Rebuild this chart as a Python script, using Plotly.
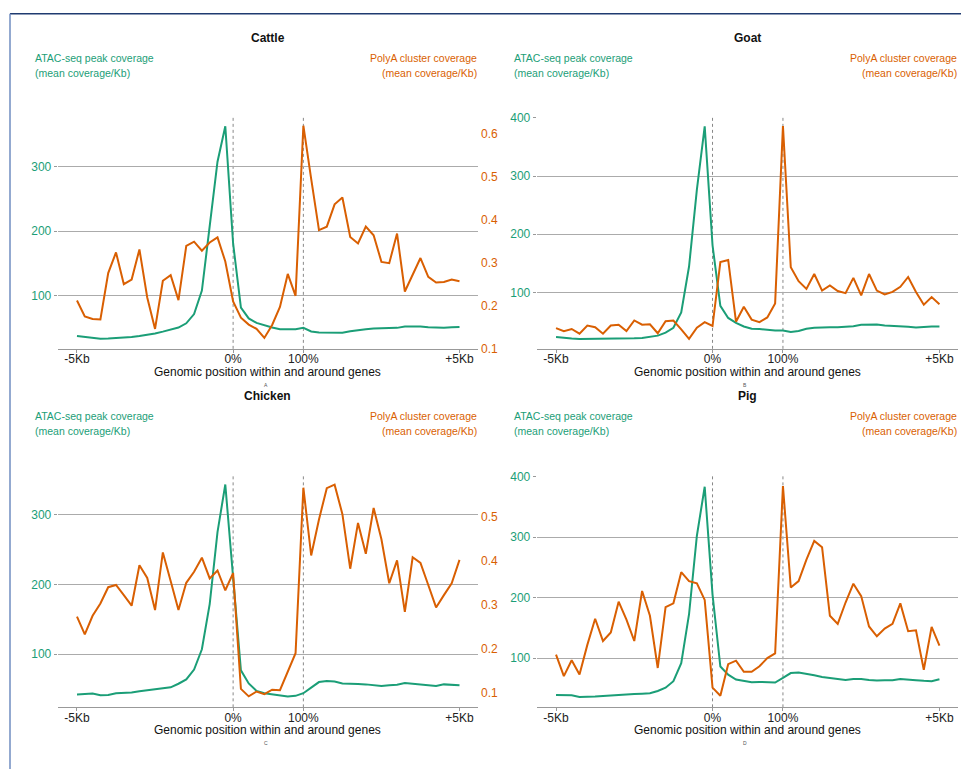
import plotly.graph_objects as go

# ---------------- data ----------------
bins = list(range(50))  # 20 upstream bins, 9 gene-body bins, 20 downstream bins
tick_pos = [0, 20, 29, 49]
tick_text = ["-5Kb", "0%", "100%", "+5Kb"]

cattle_atac = [37.6, 36.4, 34.6, 33.6, 33.8, 34.3, 35.1, 36.0, 37.6, 39.5, 41.7, 44.5, 47.3, 50.8, 57.4,
               71.7, 108, 209, 307.6, 362.4, 181, 81.7, 65, 58, 53.9, 50.8, 48.3, 48.3, 48.3, 50.3,
               44.7, 43.2, 43.2, 43.2, 42.7, 45.2, 47.3, 48.3, 49.3, 49.8, 49.8, 50.3, 52.4, 52.9, 52.4,
               51.3, 50.3, 50.3, 51.3, 51.8]
cattle_polya = [0.212, 0.175, 0.169, 0.168, 0.276, 0.324, 0.250, 0.261, 0.331, 0.219, 0.146, 0.258, 0.271,
                0.213, 0.339, 0.349, 0.328, 0.347, 0.359, 0.303, 0.210, 0.172, 0.156, 0.146, 0.125, 0.155,
                0.197, 0.274, 0.223, 0.619, 0.495, 0.376, 0.384, 0.436, 0.452, 0.360, 0.345, 0.384, 0.364,
                0.302, 0.299, 0.368, 0.233, 0.271, 0.311, 0.267, 0.254, 0.255, 0.261, 0.257]

goat_atac = [23.5, 21.8, 20.7, 20.1, 20.1, 20.1, 20.7, 20.1, 20.7, 20.7, 21.2, 21.8, 23.5, 25.7, 31.0,
             39.2, 65.7, 144.5, 276.7, 385.3, 181, 76.9, 56.1, 47.7, 41.5, 37.5, 37.0, 35.8, 34.7, 34.7,
             31.9, 33.6, 37.5, 39.2, 40.3, 40.3, 40.3, 40.9, 42.0, 44.3, 44.9, 44.9, 43.2, 42.0, 42.0,
             40.9, 39.8, 40.9, 41.5, 41.5]
goat_polya = [0.150, 0.143, 0.148, 0.137, 0.156, 0.152, 0.137, 0.156, 0.158, 0.143, 0.168, 0.158, 0.159,
              0.138, 0.166, 0.168, 0.147, 0.125, 0.151, 0.164, 0.155, 0.305, 0.310, 0.165, 0.200, 0.170,
              0.164, 0.175, 0.208, 0.624, 0.293, 0.260, 0.242, 0.277, 0.238, 0.250, 0.237, 0.232, 0.268,
              0.227, 0.277, 0.238, 0.229, 0.235, 0.247, 0.270, 0.235, 0.205, 0.223, 0.206]

chicken_atac = [42.1, 42.6, 43.5, 41.2, 41.6, 44.0, 44.5, 44.9, 46.8, 48.2, 48.7, 50.1, 52.5, 57.6, 63.8,
                77.9, 107.1, 172, 275.5, 343.8, 205, 76.9, 58.1, 47.3, 44.0, 42.6, 41.2, 39.3, 40.2, 44.0,
                52.0, 60.0, 61.4, 60.9, 58.1, 57.2, 57.2, 56.7, 55.3, 54.4, 55.3, 56.2, 58.6, 57.6, 56.2,
                55.3, 54.4, 56.7, 56.2, 55.3]
chicken_polya = [0.274, 0.234, 0.276, 0.304, 0.341, 0.346, 0.323, 0.299, 0.391, 0.362, 0.289, 0.420, 0.355,
                 0.289, 0.351, 0.376, 0.408, 0.361, 0.379, 0.334, 0.373, 0.110, 0.093, 0.104, 0.098, 0.108,
                 0.107, 0.150, 0.191, 0.567, 0.413, 0.495, 0.566, 0.574, 0.507, 0.383, 0.487, 0.417, 0.521,
                 0.450, 0.350, 0.402, 0.285, 0.409, 0.396, 0.346, 0.295, 0.323, 0.350, 0.403]

pig_atac = [38.9, 38.9, 38.4, 35.7, 35.7, 36.2, 37.3, 37.8, 38.9, 40.0, 40.5, 41.1, 41.6, 45.4, 50.8,
            61.6, 91.4, 172.4, 302.2, 383.2, 204.9, 85.9, 72.4, 64.3, 61.6, 60.0, 60.5, 59.5, 59.5, 67.0,
            75.1, 76.2, 74.1, 71.4, 68.6, 67.0, 65.4, 63.8, 65.4, 65.4, 63.8, 62.7, 63.2, 63.2, 65.4,
            63.8, 63.2, 62.2, 61.6, 64.9]
pig_polya = [0.203, 0.153, 0.190, 0.157, 0.226, 0.287, 0.235, 0.255, 0.327, 0.285, 0.235, 0.352, 0.294,
             0.172, 0.314, 0.323, 0.396, 0.375, 0.370, 0.331, 0.126, 0.107, 0.181, 0.189, 0.163, 0.163,
             0.176, 0.195, 0.206, 0.597, 0.360, 0.375, 0.425, 0.469, 0.454, 0.294, 0.275, 0.325, 0.369,
             0.340, 0.269, 0.246, 0.264, 0.275, 0.323, 0.258, 0.260, 0.168, 0.268, 0.224]

species = ["Cattle", "Goat", "Chicken", "Pig"]
letters = ["A", "B", "C", "D"]
atac_series = [cattle_atac, goat_atac, chicken_atac, pig_atac]
polya_series = [cattle_polya, goat_polya, chicken_polya, pig_polya]
left_ticks = [[100, 200, 300], [100, 200, 300, 400], [100, 200, 300], [100, 200, 300, 400]]
right_ticks = [[0.1, 0.2, 0.3, 0.4, 0.5, 0.6], [0.1, 0.2, 0.3, 0.4, 0.5, 0.6],
               [0.1, 0.2, 0.3, 0.4, 0.5], [0.1, 0.2, 0.3, 0.4, 0.5]]

# ---------------- layout geometry ----------------
W, H = 961, 776
GREEN = "#1B9E77"
ORANGE = "#D95F02"
FONT = "Liberation Sans, Arial, sans-serif"


def px(x):
    return x / W


def py(y):
    return 1 - y / H


left_ranges = [[17.8, 376.6], [3.0, 401.2], [23.7, 355.6], [18.4, 400.5]]
right_ranges = [[0.0995, 0.639], [0.1014, 0.645], [0.068, 0.593], [0.08, 0.62]]
x_dom = [(57.7, 478.0), (536.7, 958.0), (57.7, 478.0), (536.7, 958.0)]
y_dom = [(113.0, 348.7), (113.0, 348.7), (478.3, 713.3), (478.3, 713.3)]
show_right = [True, False, True, False]

fig = go.Figure()
layout = dict(
    width=W, height=H, autosize=False,
    margin=dict(l=0, r=0, t=0, b=0),
    paper_bgcolor="white", plot_bgcolor="white",
    showlegend=False,
    font=dict(family=FONT, size=12, color="#222"),
)
annotations = []
shapes = []

for k in range(4):
    xn = "x" if k == 0 else f"x{k + 1}"
    yl = 2 * k + 1
    yr = 2 * k + 2
    yln = "y" if yl == 1 else f"y{yl}"
    yrn = f"y{yr}"
    xkey = "xaxis" if k == 0 else f"xaxis{k + 1}"
    ylkey = "yaxis" if yl == 1 else f"yaxis{yl}"
    yrkey = f"yaxis{yr}"

    x0, x1 = x_dom[k]
    ytop, ybot = y_dom[k]

    layout[xkey] = dict(
        domain=[px(x0), px(x1)], anchor=yln, range=[-2.47, 51.37],
        tickvals=tick_pos, ticktext=tick_text, ticks="outside", ticklen=3,
        tickcolor="#999999", showline=True, linecolor="#999999", linewidth=1,
        showgrid=False, zeroline=False, tickfont=dict(size=12, color="#222222"),
        ticklabelstandoff=-4,
    )
    layout[ylkey] = dict(
        domain=[py(ybot), py(ytop)], anchor=xn, range=left_ranges[k],
        tickvals=left_ticks[k], ticks="outside", ticklen=3, tickcolor="#999999",
        showgrid=True, gridcolor="#ababab", gridwidth=1, zeroline=False,
        showline=False, tickfont=dict(size=12, color=GREEN),
    )
    layout[yrkey] = dict(
        overlaying=yln, anchor=xn, side="right", range=right_ranges[k],
        tickvals=right_ticks[k], ticks="", showgrid=False, zeroline=False,
        showline=False, showticklabels=show_right[k],
        tickfont=dict(size=12, color=ORANGE), ticklabelstandoff=2,
    )

    fig.add_trace(go.Scatter(x=bins, y=atac_series[k], mode="lines", xaxis=xn, yaxis=yln,
                             line=dict(color=GREEN, width=2), hoverinfo="skip"))
    fig.add_trace(go.Scatter(x=bins, y=polya_series[k], mode="lines", xaxis=xn, yaxis=yrn,
                             line=dict(color=ORANGE, width=2), hoverinfo="skip"))

    # dotted boundaries at gene start (0%) and end (100%)
    for xv in (tick_pos[1], tick_pos[2]):
        shapes.append(dict(type="line", xref=xn, yref=f"{yln} domain", x0=xv, x1=xv, y0=0, y1=1,
                           line=dict(color="#888888", width=1, dash="dot"), layer="below"))

    dy = 0 if k < 2 else 364.0
    dx = 0 if k % 2 == 0 else 479.3
    cx = (x0 + x1) / 2
    annotations += [
        dict(text=f"<b>{species[k]}</b>", x=px(cx), y=py(32.7 + dy), xref="paper", yref="paper",
             showarrow=False, xanchor="center", yanchor="middle", font=dict(size=12, color="#111")),
        dict(text="ATAC-seq peak coverage", x=px(33 + dx), y=py(52.7 + dy), xref="paper", yref="paper",
             showarrow=False, xanchor="left", yanchor="middle", font=dict(size=10.5, color=GREEN)),
        dict(text="(mean coverage/Kb)", x=px(33 + dx), y=py(68 + dy), xref="paper", yref="paper",
             showarrow=False, xanchor="left", yanchor="middle", font=dict(size=10.5, color=GREEN)),
        dict(text="PolyA cluster coverage", x=px(x1 + 0.5), y=py(52.7 + dy), xref="paper", yref="paper",
             showarrow=False, xanchor="right", yanchor="middle", font=dict(size=10.5, color=ORANGE)),
        dict(text="(mean coverage/Kb)", x=px(x1 + 0.5), y=py(68 + dy), xref="paper", yref="paper",
             showarrow=False, xanchor="right", yanchor="middle", font=dict(size=10.5, color=ORANGE)),
        dict(text="Genomic position within and around genes", x=px(cx), y=py(372 + dy), xref="paper",
             yref="paper", showarrow=False, xanchor="center", yanchor="middle",
             font=dict(size=12, color="#111")),
        dict(text=letters[k], x=px(cx - 2), y=py(385.5 + dy), xref="paper", yref="paper",
             showarrow=False, xanchor="center", yanchor="middle", font=dict(size=5, color="#555")),
    ]

# outer frame (top and left edges visible)
shapes.append(dict(type="line", xref="paper", yref="paper", x0=px(10), x1=1.0, y0=py(8), y1=py(8),
                   line=dict(color="#1f3b70", width=1.5), layer="above"))
shapes.append(dict(type="line", xref="paper", yref="paper", x0=px(10), x1=px(10), y0=py(8), y1=0,
                   line=dict(color="#6f8cc0", width=1.5), layer="above"))

layout["annotations"] = annotations
layout["shapes"] = shapes
fig.update_layout(**layout)

fig.write_html("out.html", config={"displayModeBar": False},
               post_script="document.body.style.margin='0px';")
